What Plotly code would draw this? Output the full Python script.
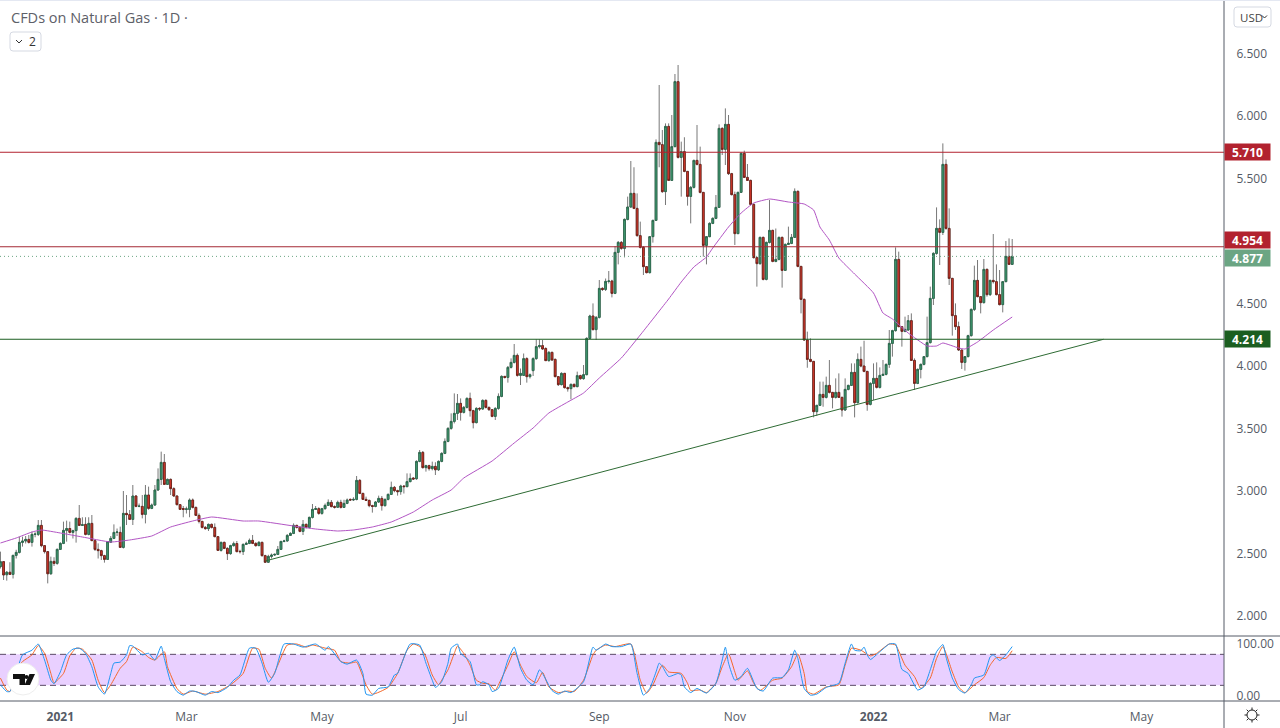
import plotly.graph_objects as go

FONT = "Open Sans"
title_text = "CFDs on Natural Gas · 1D ·"
time_ticks = [19, 59, 102, 146, 190, 233, 277, 317, 362]
time_labels = ["<b>2021</b>", "Mar", "May", "Jul", "Sep", "Nov", "<b>2022</b>", "Mar", "May"]
price_ticks = [2.0, 2.5, 3.0, 3.5, 4.0, 4.5, 5.0, 5.5, 6.0, 6.5]
osc_ticks = [0, 100]
osc_labels = ["0.00", "100.00"]
resistance_high = 5.710
resistance_low = 4.954
last_price = 4.877
support = 4.214
trend_bars = [84, 350]
trend_prices = [2.44, 4.214]

opens = [
2.395,2.435,2.33,2.35,2.333,2.485,2.509,2.589,2.60,2.613,
2.589,2.653,2.653,2.725,2.563,2.515,2.338,2.437,2.421,2.533,
2.581,2.685,2.70,2.669,2.683,2.781,2.725,2.733,2.653,2.741,
2.603,2.533,2.523,2.483,2.453,2.59,2.621,2.669,2.669,2.549,
2.821,2.811,2.773,2.96,2.877,2.877,2.813,2.968,2.861,2.888,
3.008,3.093,3.229,3.053,3.093,3.019,2.96,2.891,2.86,2.853,
2.853,2.928,2.869,2.805,2.757,2.709,2.699,2.733,2.709,2.635,
2.525,2.589,2.541,2.499,2.563,2.58,2.517,2.515,2.573,2.581,
2.605,2.581,2.563,2.589,2.483,2.43,2.477,2.488,2.493,2.533,
2.597,2.60,2.645,2.661,2.725,2.709,2.677,2.733,2.709,2.789,
2.853,2.859,2.821,2.859,2.885,2.909,2.875,2.87,2.909,2.869,
2.901,2.933,2.928,2.933,3.085,2.981,2.933,2.925,2.883,2.877,
2.912,2.941,2.883,2.933,2.973,3.029,3.003,2.995,3.04,3.035,
3.075,3.104,3.098,3.237,3.309,3.187,3.203,3.179,3.197,3.17,
3.237,3.301,3.397,3.501,3.557,3.621,3.701,3.629,3.669,3.741,
3.643,3.547,3.661,3.656,3.725,3.669,3.651,3.597,3.661,3.757,
3.917,3.909,3.989,4.029,4.085,3.925,3.925,4.059,3.915,3.963,
4.059,4.155,4.163,4.14,4.043,4.109,4.053,3.915,3.851,3.941,
3.827,3.819,3.853,3.835,3.923,3.899,3.931,4.221,4.4,4.291,
4.389,4.621,4.613,4.677,4.68,4.581,4.909,4.989,4.941,5.173,
5.272,5.381,5.261,5.043,4.949,4.795,4.747,5.035,5.165,5.789,
5.771,5.395,5.917,5.485,5.755,6.275,5.669,5.715,5.557,5.357,
5.429,5.645,5.613,5.389,4.965,5.035,5.141,5.181,5.269,5.901,
5.733,5.933,5.539,5.371,5.059,5.389,5.701,5.509,5.485,5.293,
4.867,4.819,5.029,4.693,4.989,5.085,4.837,4.853,5.029,4.765,
4.973,4.981,5.029,5.397,4.797,4.533,4.208,4.053,4.037,3.635,
3.685,3.773,3.749,3.845,3.789,3.749,3.789,3.749,3.648,3.813,
3.845,3.949,3.707,4.053,4.0,3.957,3.693,3.861,3.901,3.829,
3.925,3.933,4.013,4.181,4.283,4.853,4.315,4.277,4.288,4.363,
4.045,3.861,3.973,4.013,4.075,4.187,4.541,4.901,5.101,5.069,
5.613,5.101,4.701,4.403,4.315,4.128,4.029,4.075,4.243,4.453,
4.685,4.555,4.507,4.773,4.571,4.685,4.675,4.571,4.491,4.675,4.877,4.813]

closes = [
2.435,2.328,2.35,2.333,2.485,2.509,2.589,2.60,2.613,2.589,
2.653,2.655,2.725,2.563,2.515,2.338,2.437,2.421,2.533,2.581,
2.685,2.70,2.669,2.683,2.781,2.725,2.73,2.653,2.741,2.603,
2.533,2.523,2.483,2.453,2.595,2.621,2.669,2.672,2.549,2.821,
2.811,2.773,2.96,2.877,2.879,2.813,2.968,2.861,2.888,3.008,
3.093,3.229,3.053,3.093,3.019,2.96,2.891,2.853,2.853,2.857,
2.928,2.869,2.805,2.757,2.709,2.699,2.733,2.709,2.635,2.525,
2.589,2.541,2.499,2.563,2.579,2.515,2.515,2.573,2.581,2.605,
2.581,2.563,2.589,2.483,2.43,2.477,2.488,2.493,2.533,2.597,
2.60,2.645,2.661,2.725,2.709,2.677,2.733,2.709,2.789,2.853,
2.859,2.821,2.859,2.885,2.909,2.875,2.87,2.909,2.869,2.901,
2.928,2.928,2.933,3.085,2.981,2.933,2.925,2.883,2.877,2.912,
2.941,2.883,2.933,2.973,3.029,3.003,2.995,3.04,3.035,3.075,
3.101,3.096,3.237,3.309,3.187,3.203,3.179,3.197,3.17,3.237,
3.301,3.397,3.501,3.557,3.621,3.701,3.629,3.669,3.741,3.643,
3.547,3.661,3.656,3.725,3.669,3.651,3.597,3.661,3.757,3.917,
3.909,3.989,4.029,4.085,3.925,3.941,4.059,3.915,3.93,4.059,
4.155,4.163,4.136,4.043,4.109,4.048,3.915,3.851,3.941,3.827,
3.819,3.853,3.835,3.923,3.899,3.931,4.221,4.4,4.291,4.389,
4.621,4.613,4.677,4.68,4.581,4.909,4.989,4.941,5.173,5.272,
5.381,5.261,5.043,4.949,4.795,4.747,5.035,5.165,5.789,5.771,
5.395,5.917,5.485,5.755,6.275,5.669,5.715,5.557,5.357,5.429,
5.645,5.613,5.389,4.965,5.035,5.141,5.181,5.269,5.901,5.733,
5.933,5.539,5.371,5.059,5.389,5.701,5.509,5.485,5.293,4.867,
4.819,5.029,4.693,4.989,5.085,4.837,4.853,5.029,4.765,4.973,
4.981,5.029,5.397,4.797,4.533,4.208,4.053,4.037,3.635,3.685,
3.773,3.749,3.845,3.789,3.749,3.789,3.749,3.648,3.813,3.845,
3.949,3.707,4.053,4.0,3.957,3.693,3.861,3.901,3.829,3.925,
3.933,4.013,4.181,4.283,4.853,4.315,4.277,4.293,4.363,4.045,
3.861,3.973,4.013,4.075,4.187,4.541,4.901,5.101,5.069,5.613,
5.101,4.701,4.403,4.315,4.128,4.029,4.075,4.243,4.453,4.685,
4.555,4.507,4.773,4.571,4.685,4.675,4.571,4.491,4.675,4.877,4.813,4.877]

highs = [
2.515,2.44,2.36,2.43,2.49,2.53,2.635,2.635,2.64,2.648,
2.675,2.67,2.768,2.768,2.565,2.52,2.475,2.47,2.54,2.59,
2.755,2.763,2.755,2.69,2.79,2.888,2.79,2.79,2.79,2.808,
2.61,2.581,2.53,2.49,2.60,2.64,2.733,2.70,2.715,3.0,
2.968,2.848,3.048,2.968,2.9,2.968,3.048,3.035,2.90,3.048,
3.181,3.315,3.296,3.10,3.10,3.03,2.965,2.89,2.88,2.875,
2.941,2.94,2.875,2.821,2.76,2.72,2.74,2.74,2.741,2.64,
2.595,2.595,2.55,2.57,2.595,2.60,2.53,2.58,2.595,2.62,
2.648,2.59,2.60,2.595,2.49,2.49,2.50,2.50,2.56,2.60,
2.61,2.655,2.67,2.741,2.73,2.72,2.768,2.74,2.795,2.896,
2.88,2.87,2.865,2.90,2.933,2.928,2.885,2.923,2.93,2.93,
2.94,2.94,2.95,3.12,3.095,2.985,2.955,2.93,2.89,2.92,
2.963,2.96,2.94,2.98,3.075,3.04,3.01,3.05,3.045,3.141,
3.141,3.11,3.245,3.328,3.32,3.21,3.21,3.235,3.23,3.245,
3.31,3.421,3.51,3.621,3.781,3.776,3.741,3.68,3.749,3.787,
3.65,3.67,3.67,3.733,3.733,3.675,3.655,3.67,3.781,3.925,
3.92,4.0,4.061,4.176,4.1,3.98,4.1,4.07,3.94,4.07,
4.213,4.213,4.208,4.15,4.12,4.115,4.06,3.92,3.95,3.945,
3.835,3.86,3.86,3.955,3.93,4.008,4.23,4.41,4.501,4.40,
4.688,4.63,4.70,4.76,4.69,4.96,5.0,5.0,5.18,5.355,
5.64,5.59,5.381,5.155,4.96,4.80,5.04,5.17,5.813,6.248,
5.888,5.941,5.941,6.008,6.336,6.408,5.795,5.83,5.56,5.44,
5.65,5.928,5.755,5.39,5.04,5.15,5.19,5.368,5.933,5.91,
6.061,6.008,5.545,5.395,5.395,5.71,5.723,5.616,5.49,5.30,
4.875,5.035,5.035,4.995,5.328,5.09,5.1,5.035,5.035,4.98,
5.115,5.056,5.421,5.405,4.80,4.54,4.275,4.221,4.04,3.69,
3.875,3.875,3.915,4.048,3.79,3.901,3.941,3.755,3.901,3.85,
4.021,4.021,4.101,4.155,4.202,3.96,3.87,4.021,4.029,3.989,
4.048,4.02,4.288,4.29,4.949,4.915,4.32,4.395,4.408,4.421,
4.061,3.98,4.02,4.08,4.395,4.635,4.91,5.269,5.173,5.781,
5.653,5.261,4.705,4.501,4.355,4.13,4.08,4.25,4.46,4.803,
4.848,4.56,4.856,4.78,4.69,5.056,4.813,4.768,4.68,5.0,5.021,5.016]

lows = [
2.38,2.288,2.283,2.33,2.30,2.46,2.50,2.555,2.58,2.58,
2.555,2.63,2.64,2.55,2.50,2.261,2.33,2.40,2.41,2.53,
2.575,2.595,2.66,2.62,2.587,2.72,2.72,2.645,2.645,2.60,
2.52,2.46,2.448,2.427,2.45,2.585,2.615,2.64,2.545,2.54,
2.728,2.77,2.728,2.87,2.87,2.781,2.741,2.85,2.855,2.88,
3.0,3.048,3.05,3.05,2.968,2.955,2.885,2.848,2.79,2.82,
2.79,2.86,2.80,2.741,2.70,2.69,2.68,2.70,2.63,2.52,
2.515,2.535,2.448,2.49,2.555,2.51,2.50,2.488,2.57,2.575,
2.575,2.555,2.56,2.475,2.425,2.425,2.46,2.48,2.49,2.53,
2.59,2.595,2.64,2.655,2.70,2.67,2.648,2.70,2.70,2.78,
2.85,2.81,2.81,2.85,2.88,2.87,2.86,2.865,2.86,2.865,
2.895,2.92,2.92,2.925,2.975,2.93,2.92,2.87,2.827,2.87,
2.905,2.843,2.875,2.925,2.97,2.99,2.963,2.97,2.98,3.03,
3.07,3.09,3.09,3.23,3.18,3.155,3.163,3.165,3.128,3.16,
3.23,3.295,3.39,3.49,3.541,3.568,3.563,3.62,3.66,3.595,
3.501,3.541,3.64,3.65,3.66,3.64,3.59,3.568,3.65,3.75,
3.90,3.867,3.98,4.02,3.915,3.848,3.92,3.867,3.90,3.92,
4.05,4.14,4.13,4.04,4.035,4.04,3.91,3.84,3.845,3.82,
3.795,3.733,3.83,3.83,3.89,3.89,3.925,4.215,4.285,4.208,
4.38,4.60,4.60,4.66,4.549,4.575,4.813,4.93,4.869,5.165,
5.265,5.255,5.035,4.94,4.728,4.741,4.74,4.987,5.16,5.59,
5.385,5.288,5.48,5.48,5.75,5.66,5.355,5.55,5.283,5.141,
5.42,5.605,5.381,4.875,4.813,5.03,5.135,5.175,5.265,5.688,
5.608,5.528,5.365,4.968,5.055,5.385,5.505,5.48,5.285,4.86,
4.635,4.81,4.685,4.685,4.98,4.83,4.83,4.845,4.627,4.76,
4.97,4.975,5.025,4.79,4.421,4.20,3.986,4.03,3.589,3.6,
3.68,3.674,3.74,3.78,3.661,3.74,3.745,3.595,3.64,3.805,
3.84,3.589,3.70,3.99,3.95,3.642,3.685,3.728,3.82,3.82,
3.92,3.925,3.985,4.075,4.275,4.31,4.155,4.27,4.28,4.04,
3.808,3.855,3.901,4.005,4.07,4.18,4.488,4.89,4.808,5.048,
5.09,4.648,4.243,4.288,4.12,3.976,3.963,4.07,4.235,4.44,
4.55,4.421,4.50,4.555,4.56,4.66,4.565,4.485,4.429,4.67,4.81,4.81]

ma_bars = [0,5,10,13,19,26,35,41,48,54,61,67,77,82,93,100,107,112,118,124,131,137,143,147,156,163,169,174,180,185,190,197,203,212,216,220,224,226,231,235,239,244,250,255,258,260,263,266,271,277,280,283,288,294,297,299,304,306,310,315,321]
ma_values = [2.584,2.624,2.672,2.688,2.664,2.632,2.592,2.608,2.64,2.712,2.76,2.792,2.76,2.76,2.72,2.696,2.68,2.688,2.712,2.752,2.832,2.928,3.008,3.104,3.24,3.384,3.504,3.624,3.712,3.784,3.904,4.064,4.248,4.536,4.672,4.792,4.872,4.944,5.112,5.224,5.304,5.336,5.312,5.296,5.248,5.112,5.008,4.864,4.736,4.584,4.424,4.376,4.264,4.16,4.16,4.184,4.144,4.136,4.192,4.288,4.392]

k_bars = [0,2,3,5,7,10,12,14,16,17,19,21,23,25,27,29,31,33,35,36,38,40,41,42,45,47,49,51,52,54,56,58,60,62,65,67,69,72,74,76,79,81,83,85,87,90,93,96,100,103,104,108,110,113,115,116,118,120,123,125,126,130,133,135,137,138,140,142,143,145,146,149,151,152,153,155,156,158,161,163,165,167,169,171,172,175,177,179,181,185,188,189,192,194,197,200,202,204,206,208,209,210,212,215,216,217,219,221,224,227,229,230,231,233,235,237,240,242,245,248,250,252,253,255,257,259,262,266,268,270,271,273,274,275,276,279,282,284,286,288,291,293,295,297,299,300,302,304,306,308,309,312,314,315,317,319,321]
k_values = [21,8,8,43,79,88,100,69,30,23,46,79,90,92,82,56,17,3,43,63,65,79,97,96,79,82,69,96,72,27,8,1,9,8,1,8,6,16,30,40,92,92,63,26,43,100,100,94,100,88,95,66,61,69,43,3,1,14,17,40,43,100,98,63,30,16,27,63,92,100,82,66,21,21,27,21,8,14,69,94,53,30,21,50,43,10,3,9,6,27,94,88,100,95,95,100,43,1,14,46,63,57,37,43,40,17,6,14,5,24,69,94,63,30,37,53,14,9,34,35,50,88,72,14,1,3,16,24,63,100,88,87,94,79,70,85,100,100,51,43,11,17,50,85,99,75,34,12,5,21,34,40,75,79,68,79,95]

d_bars = [0,2,3,5,7,10,12,14,16,17,20,22,24,26,29,31,33,35,38,40,42,45,47,49,52,53,56,58,61,65,69,73,77,80,82,84,86,88,91,94,97,99,103,106,108,111,113,116,118,123,126,129,131,133,135,137,139,140,142,144,145,147,149,151,153,155,157,158,161,163,165,167,170,172,174,177,180,182,185,188,189,192,195,200,203,205,207,210,212,216,218,219,222,224,227,229,231,233,234,237,239,241,245,248,251,253,255,256,258,262,266,268,270,273,276,278,282,284,287,290,292,295,297,299,302,304,306,309,312,314,316,319,321]
d_values = [34,11,8,50,66,79,97,82,43,25,43,77,92,90,69,30,6,21,53,66,94,85,74,69,85,56,14,3,9,3,8,21,43,92,90,53,34,59,98,100,94,98,92,88,66,63,65,21,3,16,43,88,100,95,75,40,21,30,50,82,96,82,59,30,24,23,10,21,59,85,59,37,25,45,17,6,9,8,30,79,88,98,95,100,30,5,21,59,46,43,24,10,11,6,24,56,81,46,30,48,24,10,30,34,56,81,43,8,3,17,21,59,92,88,77,82,100,98,59,37,14,34,72,95,46,17,6,21,35,59,74,72,87]

bars = list(range(len(closes)))
W, H = 1280, 728
PANE_R, MAIN_T, MAIN_B, OSC_B = 1224, 1, 636, 701
px = lambda v: v / W
py = lambda v: 1 - v / H

body_top = [max(a, b) for a, b in zip(opens, closes)]
body_bot = [min(a, b) for a, b in zip(opens, closes)]

fig = go.Figure()
fig.add_trace(go.Candlestick(
    x=bars, open=opens, high=highs, low=lows, close=closes, whiskerwidth=0,
    increasing=dict(line=dict(color="#787878", width=1), fillcolor="#787878"),
    decreasing=dict(line=dict(color="#787878", width=1), fillcolor="#787878"),
    hoverinfo="skip", showlegend=False, xaxis="x", yaxis="y"))
fig.add_trace(go.Candlestick(
    x=bars, open=opens, high=body_top, low=body_bot, close=closes, whiskerwidth=0,
    increasing=dict(line=dict(color="#246447", width=0.8), fillcolor="#439e74"),
    decreasing=dict(line=dict(color="#6a1d14", width=0.8), fillcolor="#dc3a2d"),
    showlegend=False, xaxis="x", yaxis="y"))
fig.add_trace(go.Scatter(x=ma_bars, y=ma_values, mode="lines", showlegend=False,
    line=dict(color="#b255c4", width=1, shape="spline", smoothing=0.4), xaxis="x", yaxis="y"))
fig.add_trace(go.Scatter(x=d_bars, y=d_values, mode="lines", showlegend=False,
    line=dict(color="#f4672a", width=1, shape="spline", smoothing=0.5), xaxis="x2", yaxis="y2"))
fig.add_trace(go.Scatter(x=k_bars, y=k_values, mode="lines", showlegend=False,
    line=dict(color="#2196f3", width=1, shape="spline", smoothing=0.5), xaxis="x2", yaxis="y2"))

x_range = [-0.14, 388.2]
shapes = []
shapes.append(dict(type="rect", xref="x2", yref="y2", x0=x_range[0], x1=x_range[1], y0=20, y1=80,
                   fillcolor="#e9d0ff", line_width=0, layer="below"))
for lv in (20, 80):
    shapes.append(dict(type="line", xref="x2", yref="y2", x0=x_range[0], x1=x_range[1], y0=lv, y1=lv,
                       line=dict(color="#5b4a66", width=1, dash="6px,4px"), layer="below"))
for lv, col in ((resistance_high, "#b2222f"), (resistance_low, "#a52a35"), (support, "#1b5e20")):
    shapes.append(dict(type="line", xref="paper", yref="y", x0=0, x1=px(PANE_R), y0=lv, y1=lv,
                       line=dict(color=col, width=1)))
shapes.append(dict(type="line", xref="paper", yref="y", x0=0, x1=px(PANE_R), y0=last_price, y1=last_price,
                   line=dict(color="#6ba583", width=1, dash="1px,3px")))
shapes.append(dict(type="line", xref="x", yref="y", x0=trend_bars[0], x1=trend_bars[1],
                   y0=trend_prices[0], y1=trend_prices[1], line=dict(color="#2e6b34", width=1)))
chrome = "#555b66"
for x0, y0, x1, y1 in ((0, MAIN_B, W, MAIN_B), (0, OSC_B, W, OSC_B), (PANE_R, 0, PANE_R, H)):
    shapes.append(dict(type="line", xref="paper", yref="paper", x0=px(x0), x1=px(x1), y0=py(y0), y1=py(y1),
                       line=dict(color=chrome, width=1)))
shapes.append(dict(type="rect", xref="paper", yref="paper", x0=0, x1=1, y0=py(1), y1=1,
                   fillcolor="#e4e8f2", line_width=0))


def rounded(x0, y0, x1, y1, r):
    return (f"M {px(x0+r)} {py(y0)} L {px(x1-r)} {py(y0)} Q {px(x1)} {py(y0)} {px(x1)} {py(y0+r)} "
            f"L {px(x1)} {py(y1-r)} Q {px(x1)} {py(y1)} {px(x1-r)} {py(y1)} "
            f"L {px(x0+r)} {py(y1)} Q {px(x0)} {py(y1)} {px(x0)} {py(y1-r)} "
            f"L {px(x0)} {py(y0+r)} Q {px(x0)} {py(y0)} {px(x0+r)} {py(y0)} Z")


def poly(points):
    return "M " + " L ".join(f"{px(a)} {py(b)}" for a, b in points) + " Z"


def open_poly(points):
    return "M " + " L ".join(f"{px(a)} {py(b)}" for a, b in points)


for box in ((10, 32, 41, 51), (1234, 7, 1271, 27)):
    shapes.append(dict(type="path", xref="paper", yref="paper", path=rounded(*box, 3),
                       fillcolor="white", line=dict(color="#d5d9e2", width=1)))
for chev in (((16, 40), (19, 43), (22, 40)), ((1262, 15.5), (1264.5, 18), (1267, 15.5))):
    shapes.append(dict(type="path", xref="paper", yref="paper", path=open_poly(chev),
                       line=dict(color="#333", width=1)))
shapes.append(dict(type="circle", xref="paper", yref="paper", x0=px(7), x1=px(39), y0=py(695), y1=py(663),
                   fillcolor="white", line=dict(color="#eeeeee", width=1)))
for pts in (((13, 674), (25, 674), (25, 685), (19.5, 685), (19.5, 679), (13, 679)),
            ((35, 674), (30, 685), (24.5, 685), (29.5, 674))):
    shapes.append(dict(type="path", xref="paper", yref="paper", path=poly(pts), fillcolor="#111", line_width=0))
shapes.append(dict(type="circle", xref="paper", yref="paper", x0=px(24.5), x1=px(28.5), y0=py(679), y1=py(675),
                   fillcolor="#111", line_width=0))
shapes.append(dict(type="circle", xref="paper", yref="paper", x0=px(1247), x1=px(1257), y0=py(720), y1=py(710),
                   fillcolor="white", line=dict(color="#222", width=1)))
for a, b, c, d in ((1252, 707.5, 1252, 710), (1252, 720, 1252, 722.5), (1244.5, 715, 1247, 715), (1257, 715, 1259.5, 715),
                   (1246.7, 709.7, 1248.5, 711.5), (1255.5, 718.5, 1257.3, 720.3), (1257.3, 709.7, 1255.5, 711.5), (1248.5, 718.5, 1246.7, 720.3)):
    shapes.append(dict(type="line", xref="paper", yref="paper", x0=px(a), x1=px(c), y0=py(b), y1=py(d),
                       line=dict(color="#222", width=1)))

ann = [
    dict(text=title_text, xref="paper", yref="paper", x=px(9), y=py(17), xanchor="left", yanchor="middle",
         showarrow=False, font=dict(family=FONT, size=14.5, color="#5d6068")),
    dict(text="2", xref="paper", yref="paper", x=px(32), y=py(41.5), xanchor="center", yanchor="middle",
         showarrow=False, font=dict(family=FONT, size=12, color="#333")),
    dict(text="USD", xref="paper", yref="paper", x=px(1238), y=py(17), xanchor="left", yanchor="middle",
         showarrow=False, font=dict(family=FONT, size=11.5, color="#444")),
]
for val, col, shift in ((resistance_high, "#b2222f", 0), (resistance_low, "#b2222f", 6.5),
                        (last_price, "#6ba583", -2), (support, "#1b5e20", 0)):
    ann.append(dict(text=f"<b>{val:.3f}</b>", xref="paper", yref="y", x=px(1247), y=val, yshift=shift,
                    xanchor="center", yanchor="middle", showarrow=False, bgcolor=col, width=43, height=14,
                    font=dict(family=FONT, size=12, color="white")))

axis_font = dict(family=FONT, size=12, color="#555b66")
fig.update_layout(
    width=W, height=H, margin=dict(l=0, r=0, t=0, b=0, autoexpand=False), autosize=False,
    paper_bgcolor="white", plot_bgcolor="white", boxgap=0.2, showlegend=False,
    shapes=shapes, annotations=ann, font=dict(family=FONT),
    xaxis=dict(domain=[0, px(PANE_R)], range=x_range, anchor="y", showticklabels=False, showgrid=False,
               zeroline=False, rangeslider=dict(visible=False), ticks=""),
    yaxis=dict(domain=[py(MAIN_B), py(MAIN_T)], range=[6.928 - 0.008 * MAIN_B, 6.928 - 0.008 * MAIN_T],
               side="right", anchor="x", tickvals=price_ticks, tickformat=".3f", showgrid=False, zeroline=False,
               ticks="outside", ticklen=9, tickcolor="rgba(0,0,0,0)", tickfont=axis_font),
    xaxis2=dict(domain=[0, px(PANE_R)], range=x_range, anchor="y2", tickvals=time_ticks, ticktext=time_labels,
                showgrid=False, zeroline=False, ticks="outside", ticklen=5, tickcolor="rgba(0,0,0,0)", tickfont=axis_font),
    yaxis2=dict(domain=[py(OSC_B), py(MAIN_B)], range=[-10.3, 115.5], side="right", anchor="x2",
                tickvals=osc_ticks, ticktext=osc_labels, showgrid=False, zeroline=False,
                ticks="outside", ticklen=9, tickcolor="rgba(0,0,0,0)", tickfont=axis_font),
)
fig.write_html("out.html", config={"displayModeBar": False},
               post_script="document.body.style.margin='0';document.documentElement.style.overflow='hidden';")
